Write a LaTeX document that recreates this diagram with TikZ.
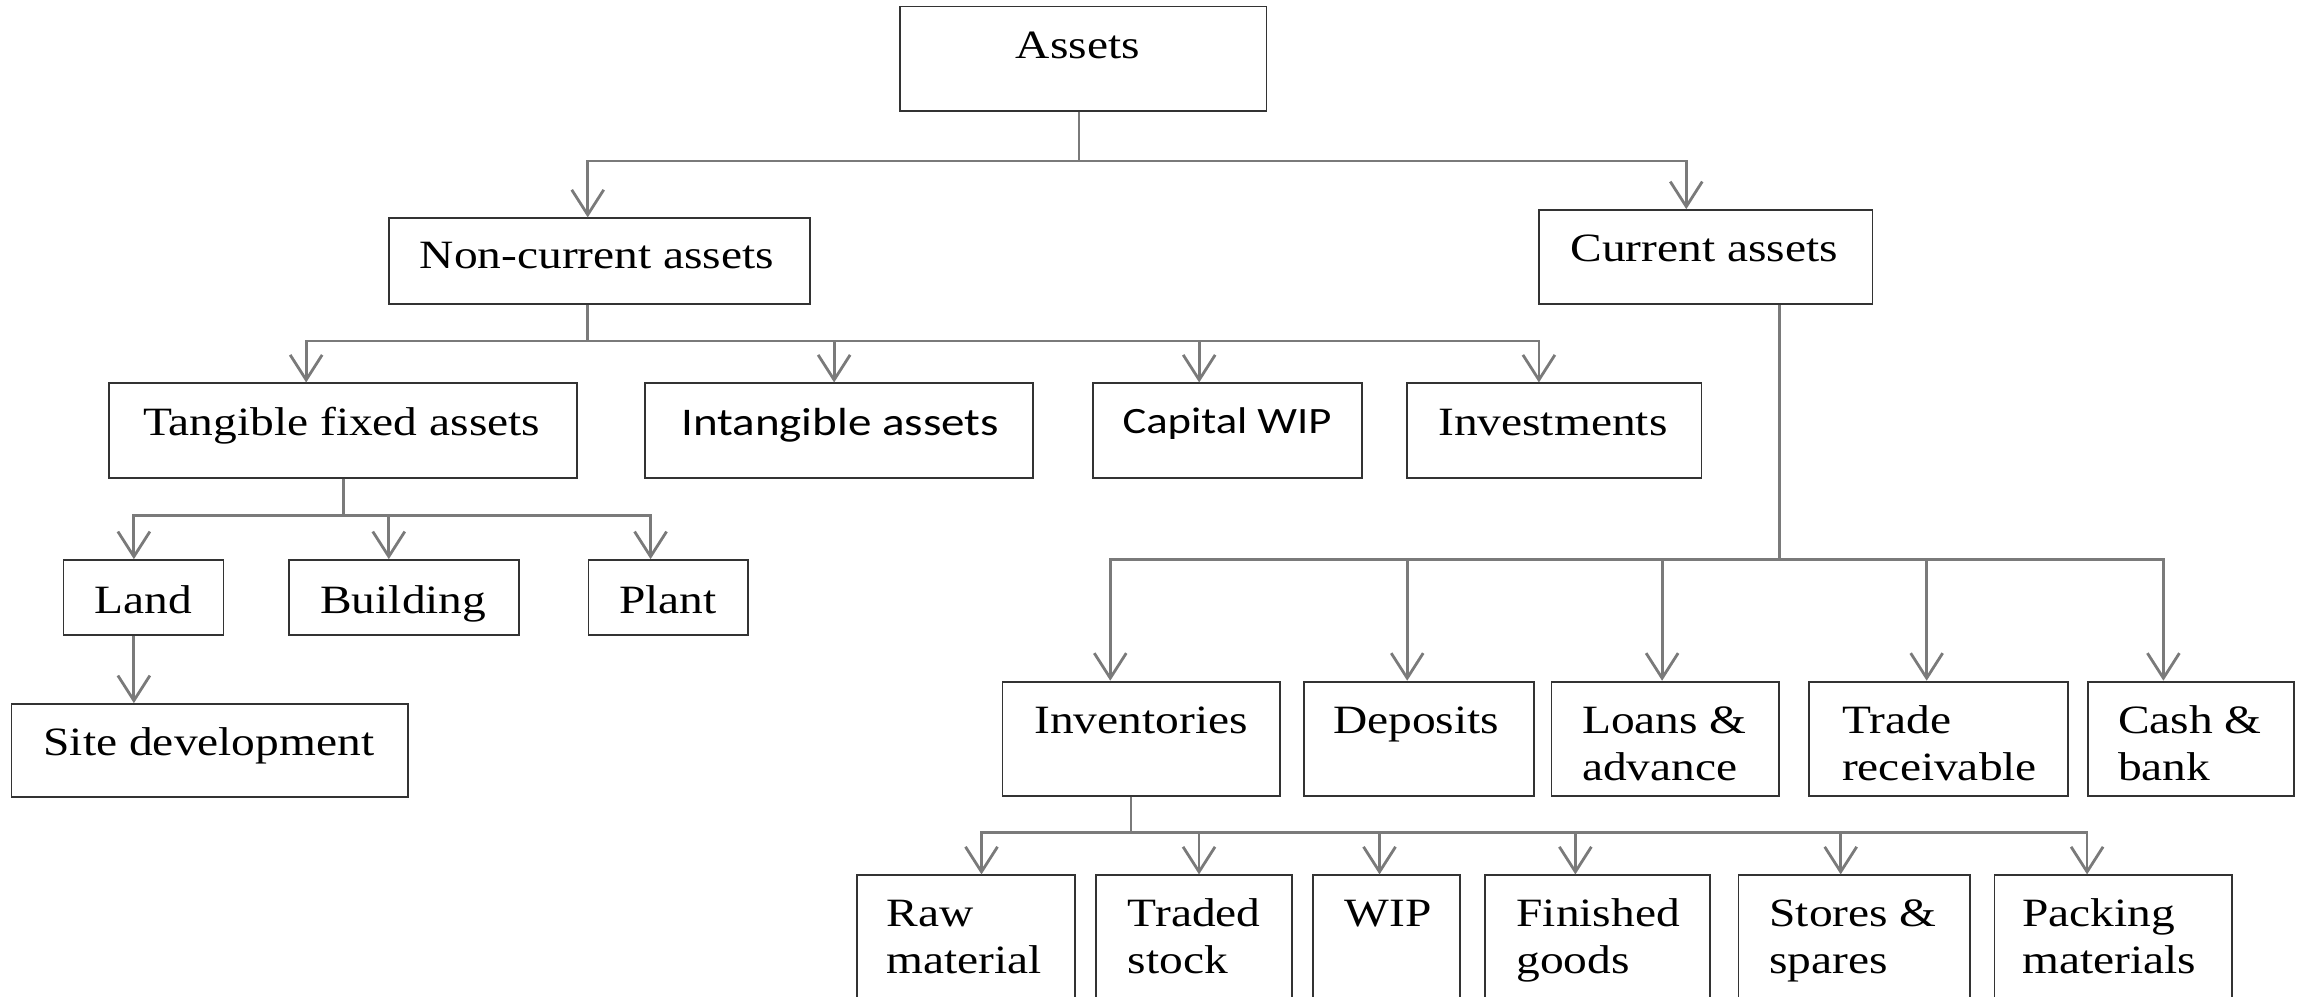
\documentclass[tikz,border=0pt]{standalone}
\usepackage{fontspec}
\setmainfont{Liberation Serif}[FakeStretch=1.18]
\newfontfamily\calibfont{Carlito}[FakeStretch=1.2]
\usetikzlibrary{arrows.meta,fit}
\definecolor{boxgray}{HTML}{333333}
\definecolor{linegray}{HTML}{7A7A7A}
\newcommand\twolines[2]{\begin{tabular}[t]{@{}l@{}}#1\\#2\end{tabular}}

\begin{document}
\begin{tikzpicture}[x=0.7325pt,y=-0.7325pt,
  font=\fontsize{20.1}{23.4}\selectfont,
  box/.style={draw=boxgray,line width=0.9pt,inner sep=0pt,fit={#1}},
  lbl/.style={inner sep=0pt,anchor=base},
  lbll/.style={inner sep=0pt,anchor=base west},
  conn/.style={draw=linegray,line width=1.4pt},
  arr/.style={conn,-{Straight Barb[length=12.5pt,width=16pt]}}]

\useasboundingbox (0,0) rectangle (1568,680);
\clip (0,0) rectangle (1568,680);

% ---- boxes ----
\node[box={(614.4,4.5) (864.5,75.5)}]      (assets) {};
\node[box={(265.4,149) (552.7,207.7)}]     (ncur) {};
\node[box={(1050.5,143.4) (1278.2,207.7)}] (cur) {};
\node[box={(74.2,261.7) (393.9,326.1)}]    (tfa) {};
\node[box={(440.4,261.7) (705.3,326.1)}]   (ifa) {};
\node[box={(746,261.7) (929.6,326.1)}]     (cwip) {};
\node[box={(960.4,261.7) (1161.5,326.1)}]  (invest) {};
\node[box={(43.4,382.3) (152.5,433.5)}]    (land) {};
\node[box={(197.5,382.3) (354.2,433.5)}]   (bldg) {};
\node[box={(401.7,382.3) (510.4,433.5)}]   (plant) {};
\node[box={(7.8,480.6) (278.5,543.8)}]     (site) {};
\node[box={(684.3,465.3) (873.9,543.2)}]   (invt) {};
\node[box={(890.2,465.3) (1047.3,543.2)}]  (dep) {};
\node[box={(1059.1,465.3) (1214.2,543.2)}] (loan) {};
\node[box={(1235,465.3) (1411.6,543.2)}]   (trade) {};
\node[box={(1425.4,465.3) (1566.1,543.2)}] (cash) {};
\node[box={(585.2,597.5) (733.9,700)}]     (raw) {};
\node[box={(748.2,597.5) (881.8,700)}]     (traded) {};
\node[box={(896.1,597.5) (996.5,700)}]     (wip) {};
\node[box={(1013.5,597.5) (1167.2,700)}]   (fin) {};
\node[box={(1186.8,597.5) (1344.6,700)}]   (stores) {};
\node[box={(1361.5,597.5) (1523.7,700)}]   (pack) {};

% ---- labels ----
\node[lbl] (assets-t) at (735.8,39.8)  {Assets};
\node[lbl] (ncur-t)   at (407.5,183.2) {Non-current assets};
\node[lbl] (cur-t)    at (1163.4,178.6) {Current assets};
\node[lbl] (tfa-t)    at (233.2,297)   {Tangible fixed assets};
\node[lbl,font=\calibfont\fontsize{19.6}{23.4}\selectfont] (ifa-t) at (573.4,297.6) {Intangible assets};
\node[lbl,font=\calibfont\fontsize{18.6}{23.4}\selectfont] (cwip-t) at (837.6,295.8) {Capital WIP};
\node[lbl] (invest-t) at (1060,297)    {Investments};
\node[lbl] (land-t)   at (97.7,418.7)  {Land};
\node[lbl] (bldg-t)   at (275.3,418.7) {Building};
\node[lbl] (plant-t)  at (456,418.7)   {Plant};
\node[lbl] (site-t)   at (142.6,515.4) {Site development};

\node[lbll] (invt-t)  at (705.8,500.6)  {Inventories};
\node[lbll] (dep-t)   at (909.8,500.6)  {Deposits};
\node[lbll] (loan-t)  at (1079.7,500.6) {\twolines{Loans \&}{advance}};
\node[lbll] (trade-t) at (1257.2,500.6) {\twolines{Trade}{receivable}};
\node[lbll] (cash-t)  at (1445.6,500.6) {\twolines{Cash \&}{bank}};

\node[lbll] (raw-t)    at (604.8,632.6)  {\twolines{Raw}{material}};
\node[lbll] (traded-t) at (769.7,632.6)  {\twolines{Traded}{stock}};
\node[lbll] (wip-t)    at (917.6,632.6)  {WIP};
\node[lbll] (fin-t)    at (1034.9,632.6) {\twolines{Finished}{goods}};
\node[lbll] (stores-t) at (1207.6,632.6) {\twolines{Stores \&}{spares}};
\node[lbll] (pack-t)   at (1380.3,632.6) {\twolines{Packing}{materials}};

% ---- connectors ----
% Assets
\coordinate (ja) at (736.6,109.9);
\draw[conn] (ja |- assets.south) -- (ja);
\draw[arr] (ja) -| (401.2,0 |- ncur.north);
\draw[arr] (ja) -| (1151.1,0 |- cur.north);

% Non-current assets
\coordinate (jn) at (401.2,232.8);
\draw[conn] (jn |- ncur.south) -- (jn);
\draw[arr] (jn) -| (209,0 |- tfa.north);
\draw[arr] (jn) -| (569.4,0 |- ifa.north);
\draw[arr] (jn) -| (818.6,0 |- cwip.north);
\draw[arr] (jn) -| (1050.5,0 |- invest.north);

% Tangible fixed assets
\coordinate (jt) at (234.5,352);
\draw[conn] (jt |- tfa.south) -- (jt);
\draw[arr] (jt) -| (91.4,0 |- land.north);
\draw[arr] (jt) -| (265.4,0 |- bldg.north);
\draw[arr] (jt) -| (444.1,0 |- plant.north);

% Land
\draw[arr] (91.4,0 |- land.south) -- (91.4,0 |- site.north);

% Current assets
\coordinate (jc) at (1214.7,381.8);
\draw[conn] (jc |- cur.south) -- (jc);
\draw[arr] (jc) -| (757.9,0 |- invt.north);
\draw[arr] (jc) -| (960.6,0 |- dep.north);
\draw[arr] (jc) -| (1134.6,0 |- loan.north);
\draw[arr] (jc) -| (1315.2,0 |- trade.north);
\draw[arr] (jc) -| (1476.8,0 |- cash.north);

% Inventories
\coordinate (ji) at (772,568.3);
\draw[conn] (ji |- invt.south) -- (ji);
\draw[arr] (ji) -| (670,0 |- raw.north);
\draw[arr] (ji) -| (818.5,0 |- traded.north);
\draw[arr] (ji) -| (941.7,0 |- wip.north);
\draw[arr] (ji) -| (1075.4,0 |- fin.north);
\draw[arr] (ji) -| (1256.5,0 |- stores.north);
\draw[arr] (ji) -| (1424.7,0 |- pack.north);
\end{tikzpicture}
\end{document}
